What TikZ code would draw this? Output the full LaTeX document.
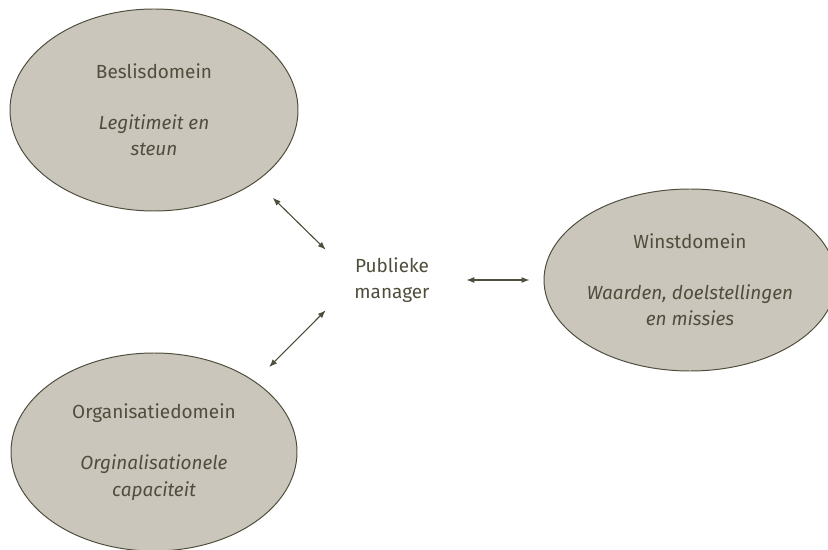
\documentclass[tikz,border=0pt]{standalone}
\usepackage{fontspec}
\setmainfont{Fira Sans}
\usetikzlibrary{arrows.meta,shapes.geometric}
\definecolor{domfill}{HTML}{CBC6BB}
\definecolor{domline}{HTML}{4F4E3C}
\begin{document}
\begin{tikzpicture}[
  every node/.style={font=\fontsize{13.5}{19}\selectfont,text=domline},
  dom/.style={ellipse,draw=domline,fill=domfill,line width=0.7pt,align=center,inner sep=0pt},
  ar/.style={{Latex[length=2mm,width=1.5mm]}-{Latex[length=2mm,width=1.5mm]},draw=domline,line width=0.8pt}]
\useasboundingbox (0,0) rectangle (20.7,-13.75);
\node[dom,minimum width=7.2cm,minimum height=5.05cm] (bes) at (3.85,-2.75) {Beslisdomein\\[17pt]\textit{Legitimeit en}\\\textit{steun}};
\node[dom,minimum width=7.15cm,minimum height=4.95cm] (org) at (3.85,-11.3) {Organisatiedomein\\[17pt]\textit{Orginalisationele}\\\textit{capaciteit}};
\node[dom,minimum width=6.9cm,minimum height=4.55cm] (win) at (17.25,-7.0) {Winstdomein\\[17pt]\textit{Waarden, doelstellingen}\\\textit{en missies}};
\node[align=center,minimum width=3.3cm,minimum height=1.5cm,inner sep=0pt] (pm) at (9.8,-7.0) {Publieke\\manager};
\draw[ar,shorten <=0.575cm] (bes.-35.5) -- (pm.north west);
\draw[ar,shorten <=0.5cm] (org.35.5) -- (pm.south west);
\draw[ar,shorten <=0.2cm,shorten >=0.35cm] (pm.east) -- (win.west);
\end{tikzpicture}
\end{document}
